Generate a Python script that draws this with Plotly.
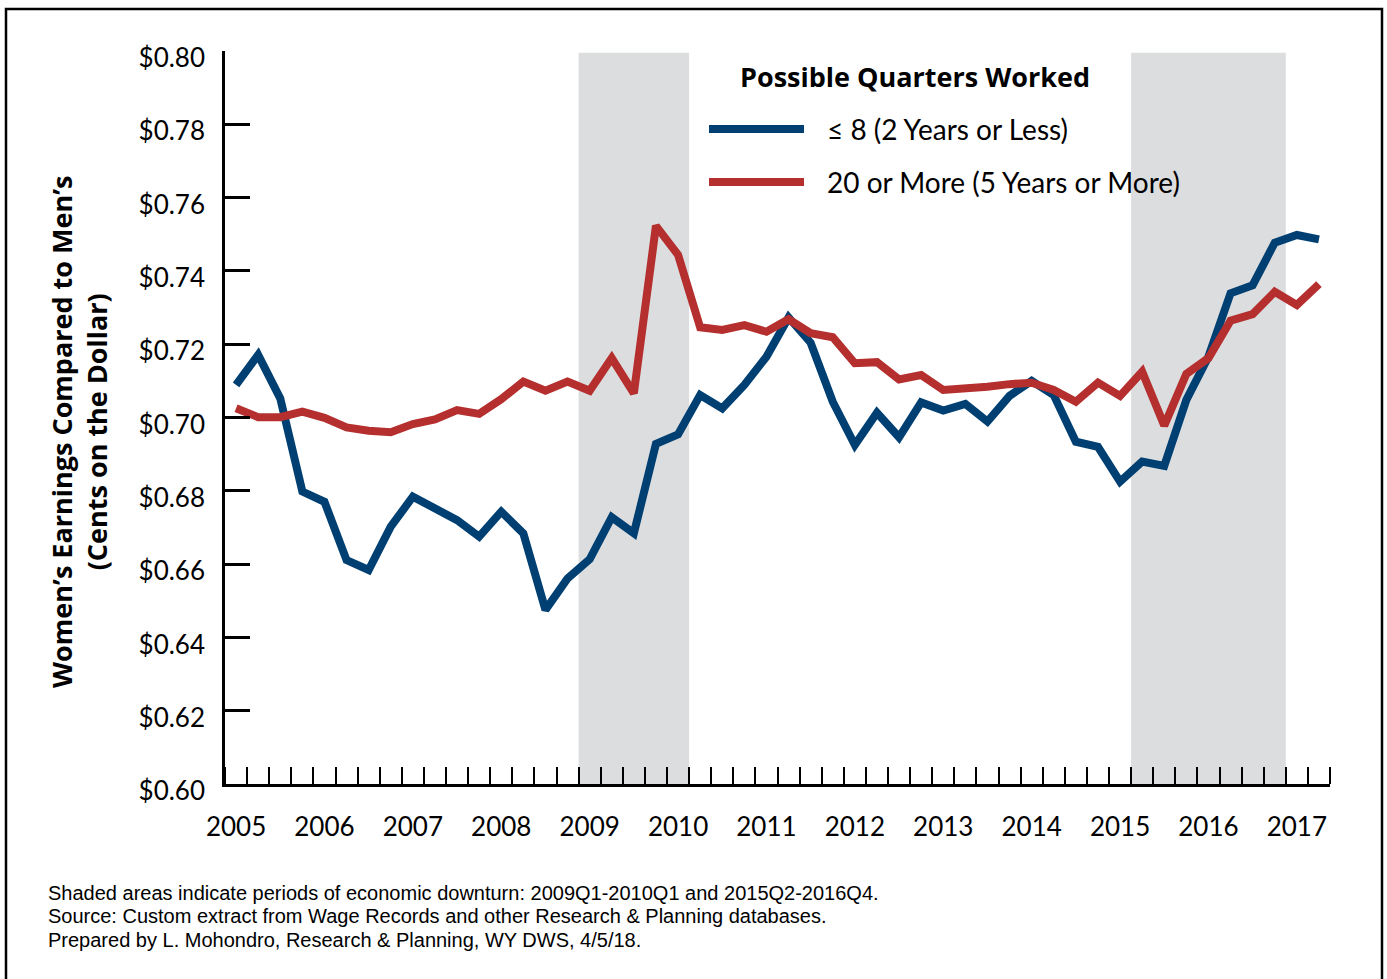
import plotly.graph_objects as go

# ---------------- data ----------------
quarters = [f"{y}Q{q}" for y in range(2005, 2018) for q in range(1, 5)][:50]
le8_quarters = [
    0.7089, 0.7171, 0.7052, 0.6798, 0.6770, 0.6611, 0.6584, 0.6702, 0.6784, 0.6752,
    0.6720, 0.6675, 0.6743, 0.6684, 0.6475, 0.6561, 0.6613, 0.6728, 0.6684, 0.6928,
    0.6954, 0.7061, 0.7025, 0.7089, 0.7166, 0.7273, 0.7204, 0.7043, 0.6925, 0.7013,
    0.6946, 0.7041, 0.7019, 0.7037, 0.6989, 0.7059, 0.7100, 0.7061, 0.6934, 0.6920,
    0.6825, 0.6880, 0.6868, 0.7048, 0.7166, 0.7339, 0.7361, 0.7477, 0.7498, 0.7486,
]
ge20_quarters = [
    0.7025, 0.7001, 0.7001, 0.7016, 0.6999, 0.6973, 0.6964, 0.6960, 0.6982, 0.6995,
    0.7020, 0.7010, 0.7050, 0.7098, 0.7073, 0.7098, 0.7073, 0.7162, 0.7066, 0.7523,
    0.7444, 0.7246, 0.7239, 0.7252, 0.7234, 0.7268, 0.7230, 0.7219, 0.7148, 0.7151,
    0.7104, 0.7116, 0.7075, 0.7077, 0.7084, 0.7091, 0.7095, 0.7075, 0.7043, 0.7095,
    0.7059, 0.7125, 0.6978, 0.7119, 0.7162, 0.7264, 0.7282, 0.7343, 0.7307, 0.7364,
]
year_labels = [str(y) for y in range(2005, 2018)]
y_ticks = [0.60, 0.62, 0.64, 0.66, 0.68, 0.70, 0.72, 0.74, 0.76, 0.78, 0.80]
downturns = [("2009Q1", "2010Q1"), ("2015Q2", "2016Q4")]
series_names = ["\u2264 8 (2 Years or Less)", "20 or More (5 Years or More)"]
legend_title = "Possible Quarters Worked"
footnotes = [
    "Shaded areas indicate periods of economic downturn: 2009Q1-2010Q1 and 2015Q2-2016Q4.",
    "Source: Custom extract from Wage Records and other Research & Planning databases.",
    "Prepared by L. Mohondro, Research & Planning, WY DWS, 4/5/18.",
]

# ---------------- style ----------------
BLUE = "#003f72"
RED = "#b52f2f"
SHADE = "#dcdddf"
FONT = "Lato, 'Open Sans', sans-serif"
BOLD_FONT = "'Open Sans', Lato, sans-serif"
NOTE_FONT = "'Liberation Sans', Arial, sans-serif"
W, H = 1387, 979
L, R, T, B = 225, 57, 51, 195
PW, PH = W - L - R, H - T - B

def px(x):
    return (x - L) / PW

def py(y):
    return (H - B - y) / PH

xi = list(range(len(quarters)))

fig = go.Figure()
fig.add_trace(go.Scatter(x=xi, y=le8_quarters, mode="lines", name=series_names[0],
                         line=dict(color=BLUE, width=8), showlegend=False,
                         customdata=quarters, hovertemplate="%{customdata}: $%{y:.3f}<extra></extra>"))
fig.add_trace(go.Scatter(x=xi, y=ge20_quarters, mode="lines", name=series_names[1],
                         line=dict(color=RED, width=8), showlegend=False,
                         customdata=quarters, hovertemplate="%{customdata}: $%{y:.3f}<extra></extra>"))

shapes = []
for a, b in downturns:
    shapes.append(dict(type="rect", xref="x", yref="y", layer="below",
                       x0=quarters.index(a) - 0.5, x1=quarters.index(b) + 0.5,
                       y0=y_ticks[0], y1=y_ticks[-1] - 0.0005,
                       fillcolor=SHADE, line=dict(width=0)))
# outer border
shapes.append(dict(type="rect", xref="paper", yref="paper",
                   x0=px(6), x1=px(1382), y0=py(995), y1=py(9),
                   line=dict(color="black", width=2.5), fillcolor="rgba(0,0,0,0)"))
# manual legend keys
for yy, col in [(129, BLUE), (182, RED)]:
    shapes.append(dict(type="line", xref="paper", yref="paper",
                       x0=px(709), x1=px(804), y0=py(yy), y1=py(yy),
                       line=dict(color=col, width=8)))

annotations = [
    dict(text="<b>Women\u2019s Earnings Compared to Men\u2019s</b><br><b>(Cents on the Dollar)</b>",
         xref="paper", yref="paper", x=px(79), y=py(432), textangle=-90,
         showarrow=False, xanchor="center", yanchor="middle",
         font=dict(family=BOLD_FONT, size=27, color="black")),
    dict(text=f"<b>{legend_title}</b>", xref="paper", yref="paper", x=px(915), y=py(77),
         showarrow=False, xanchor="center", yanchor="middle",
         font=dict(family=BOLD_FONT, size=27, color="black")),
]
for yy, name in [(129, series_names[0]), (182, series_names[1])]:
    annotations.append(dict(text=name, xref="paper", yref="paper", x=px(825), y=py(yy),
                            showarrow=False, xanchor="left", yanchor="middle",
                            font=dict(family=FONT, size=28, color="black")))
for yy, line in zip([892.5, 916, 939.5], footnotes):
    annotations.append(dict(text=line, xref="paper", yref="paper",
                            x=px(46), y=py(yy), showarrow=False, xanchor="left", yanchor="middle",
                            font=dict(family=NOTE_FONT, size=20, color="black")))

fig.update_layout(
    width=W, height=H,
    margin=dict(l=L, r=R, t=T, b=B, pad=0),
    paper_bgcolor="white", plot_bgcolor="white",
    font=dict(family=FONT, color="black"),
    shapes=shapes, annotations=annotations,
    showlegend=False,
)
fig.update_xaxes(
    range=[-0.5, len(quarters) - 0.5],
    tickvals=[quarters.index(f"{y}Q1") for y in year_labels],
    ticktext=year_labels,
    ticks="", ticklabelstandoff=18,
    tickfont=dict(family=FONT, size=26, color="black"),
    showgrid=False, zeroline=False,
    showline=True, linecolor="black", linewidth=2.5,
    minor=dict(tick0=-0.5, dtick=1, ticks="inside", ticklen=17, tickwidth=2.2,
               tickcolor="black", showgrid=False),
)
fig.update_yaxes(
    range=[y_ticks[0], y_ticks[-1]],
    tickvals=y_ticks, tickformat="$.2f",
    ticks="inside", ticklen=25, tickwidth=2.5, tickcolor="black",
    ticklabelstandoff=12, ticklabelshift=7,
    tickfont=dict(family=FONT, size=26, color="black"),
    showgrid=False, zeroline=False,
    showline=True, linecolor="black", linewidth=2.5,
)

fig.write_html("out.html", config={"displayModeBar": False},
               post_script="document.body.style.margin='0';document.body.style.overflow='hidden';")
